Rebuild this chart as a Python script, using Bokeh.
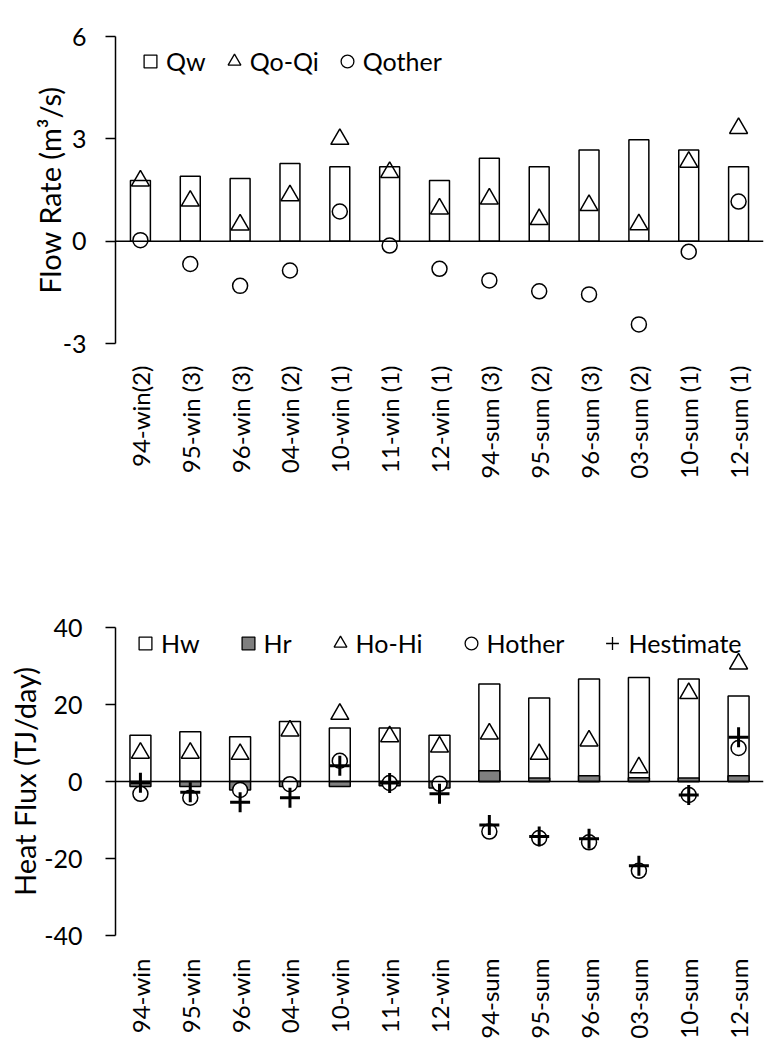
from math import pi
from bokeh.plotting import figure
from bokeh.models import (ColumnDataSource, FactorRange, Range1d, FixedTicker,
                          Span, Legend, LegendItem)
from bokeh.layouts import column
from bokeh.embed import file_html
from bokeh.resources import INLINE

# ---------------- data ----------------
flow_cats = ["94-win(2)", "95-win (3)", "96-win (3)", "04-win (2)", "10-win (1)",
             "11-win (1)", "12-win (1)", "94-sum (3)", "95-sum (2)", "96-sum (3)",
             "03-sum (2)", "10-sum (1)", "12-sum (1)"]
qw = [1.78, 1.90, 1.84, 2.28, 2.18, 2.18, 1.78, 2.43, 2.18, 2.67, 2.97, 2.67, 2.18]
qo_qi = [1.77, 1.18, 0.48, 1.34, 2.99, 2.02, 0.95, 1.24, 0.64, 1.05, 0.49, 2.32, 3.31]
qother = [0.03, -0.67, -1.31, -0.86, 0.87, -0.13, -0.81, -1.15, -1.47, -1.56, -2.44, -0.31, 1.16]
flow_ticks = [-3, 0, 3, 6]

heat_cats = ["94-win", "95-win", "96-win", "04-win", "10-win", "11-win", "12-win",
             "94-sum", "95-sum", "96-sum", "03-sum", "10-sum", "12-sum"]
hw = [12.0, 12.9, 11.6, 15.6, 13.9, 13.9, 12.0, 25.3, 21.7, 26.6, 27.0, 26.6, 22.2]
hr = [-1.3, -1.3, -2.2, -1.3, -1.3, -1.1, -1.7, 2.8, 0.9, 1.5, 1.0, 0.9, 1.5]
ho_hi = [7.4, 7.4, 7.1, 13.2, 17.5, 11.7, 9.0, 12.4, 7.1, 10.6, 3.6, 22.9, 30.6]
hother = [-3.2, -4.2, -2.2, -0.7, 5.4, -0.4, -0.6, -13.0, -14.7, -15.8, -23.2, -3.5, 8.7]
hestimate = [-0.3, -2.8, -5.4, -4.2, 4.1, -0.4, -3.2, -11.3, -14.3, -14.9, -21.9, -3.5, 11.5]
heat_ticks = [-40, -20, 0, 20, 40]

FONT = "Lato"
GRAY = "#7f7f7f"


def style(p, ticks, title, tick_standoff, title_standoff, x_standoff):
    p.xgrid.visible = False
    p.ygrid.visible = False
    p.outline_line_color = None
    p.background_fill_color = "white"
    ya = p.yaxis[0]
    ya.ticker = FixedTicker(ticks=ticks)
    ya.major_label_overrides = {t: str(t) for t in ticks}
    ya.minor_tick_line_color = None
    ya.major_tick_in = 0
    ya.major_tick_out = 10
    ya.axis_line_width = 1.5
    ya.axis_line_color = "black"
    ya.major_tick_line_width = 1.5
    ya.major_tick_line_color = "black"
    ya.major_label_text_font = FONT
    ya.major_label_text_font_size = "25px"
    ya.major_label_text_color = "black"
    ya.major_label_standoff = tick_standoff
    ya.axis_label = title
    ya.axis_label_text_font = FONT
    ya.axis_label_text_font_size = "29px"
    ya.axis_label_text_font_style = "normal"
    ya.axis_label_text_color = "black"
    ya.axis_label_standoff = title_standoff
    xa = p.xaxis[0]
    xa.axis_line_color = None
    xa.major_tick_line_color = None
    xa.minor_tick_line_color = None
    xa.major_tick_in = 0
    xa.major_tick_out = 0
    xa.major_label_orientation = pi / 2
    xa.major_label_text_font = FONT
    xa.major_label_text_font_size = "24px"
    xa.major_label_text_color = "black"
    xa.major_label_standoff = x_standoff
    p.add_layout(Span(location=0, dimension="width", line_color="black", line_width=1.5))


def make_legend(items, loc, spacing):
    return Legend(items=items, orientation="horizontal", location=loc,
                  glyph_width=32, glyph_height=32, label_standoff=0,
                  spacing=spacing, padding=0, margin=0,
                  border_line_color=None, background_fill_alpha=0,
                  label_text_font=FONT, label_text_font_size="25px",
                  label_text_color="black", click_policy="none")


# ---------------- top: flow rate ----------------
src1 = ColumnDataSource(dict(cat=flow_cats, qw=qw, qo_qi=qo_qi, qother=qother))
p1 = figure(width=779, height=560, x_range=FactorRange(*flow_cats, range_padding=0),
            y_range=Range1d(-3, 6), output_backend="svg", toolbar_location=None,
            min_border_left=104, min_border_right=16, min_border_top=36,
            min_border_bottom=217, title=None)
p1.vbar(x="cat", top="qw", bottom=0, width=0.4, source=src1,
        fill_color="white", line_color="black", line_width=1.5)
p1.scatter(x="cat", y="qo_qi", source=src1, marker="triangle", size=18,
           fill_color=None, line_color="black", line_width=1.5)
p1.scatter(x="cat", y="qother", source=src1, marker="circle", size=15,
           fill_color="white", line_color="black", line_width=1.5)
style(p1, flow_ticks, "Flow Rate (m³/s)", 19, -7, 22)

l_qw = p1.scatter(x="cat", y="qw", source=src1, marker="square", visible=False,
                  fill_color="white", line_color="black", line_width=1.3)
l_tri1 = p1.scatter(x="cat", y="qo_qi", source=src1, marker="triangle", visible=False,
                    fill_color=None, line_color="black", line_width=1.3)
l_cir1 = p1.scatter(x="cat", y="qother", source=src1, marker="circle", visible=False,
                    fill_color=None, line_color="black", line_width=1.3)
p1.add_layout(make_legend([LegendItem(label="Qw", renderers=[l_qw]),
                           LegendItem(label="Qo-Qi", renderers=[l_tri1]),
                           LegendItem(label="Qother", renderers=[l_cir1])],
                          (19, 266), 12))

# ---------------- bottom: heat flux ----------------
src2 = ColumnDataSource(dict(cat=heat_cats, hw=hw, hr=hr, ho_hi=ho_hi,
                             hother=hother, hestimate=hestimate))
p2 = figure(width=779, height=497, x_range=FactorRange(*heat_cats, range_padding=0),
            y_range=Range1d(-40, 40), output_backend="svg", toolbar_location=None,
            min_border_left=115, min_border_right=1, min_border_top=67,
            min_border_bottom=122, title=None)
p2.vbar(x="cat", top="hw", bottom=0, width=0.42, source=src2,
        fill_color="white", line_color="black", line_width=1.5)
p2.vbar(x="cat", top="hr", bottom=0, width=0.42, source=src2,
        fill_color=GRAY, line_color="black", line_width=1.5)
p2.scatter(x="cat", y="ho_hi", source=src2, marker="triangle", size=18,
           fill_color=None, line_color="black", line_width=1.5)
p2.scatter(x="cat", y="hother", source=src2, marker="circle", size=15,
           fill_color="white", line_color="black", line_width=1.5)
p2.scatter(x="cat", y="hestimate", source=src2, marker="cross", size=20,
           line_color="black", line_width=3)
style(p2, heat_ticks, "Heat Flux (TJ/day)", 23, -1, 23)

l_hw = p2.scatter(x="cat", y="hw", source=src2, marker="square", visible=False,
                  fill_color="white", line_color="black", line_width=1.3)
l_hr = p2.scatter(x="cat", y="hr", source=src2, marker="square", visible=False,
                  fill_color=GRAY, line_color="black", line_width=1.3)
l_tri2 = p2.scatter(x="cat", y="ho_hi", source=src2, marker="triangle", visible=False,
                    fill_color=None, line_color="black", line_width=1.3)
l_cir2 = p2.scatter(x="cat", y="hother", source=src2, marker="circle", visible=False,
                    fill_color=None, line_color="black", line_width=1.3)
l_crs2 = p2.scatter(x="cat", y="hestimate", source=src2, marker="cross", visible=False,
                    line_color="black", line_width=1.3)
p2.add_layout(make_legend([LegendItem(label="Hw", renderers=[l_hw]),
                           LegendItem(label="Hr", renderers=[l_hr]),
                           LegendItem(label="Ho-Hi", renderers=[l_tri2]),
                           LegendItem(label="Hother", renderers=[l_cir2]),
                           LegendItem(label="Hestimate", renderers=[l_crs2])],
                          (14, 276), 32))

layout = column(p1, p2)
open("out.html", "w").write(file_html(layout, INLINE))
